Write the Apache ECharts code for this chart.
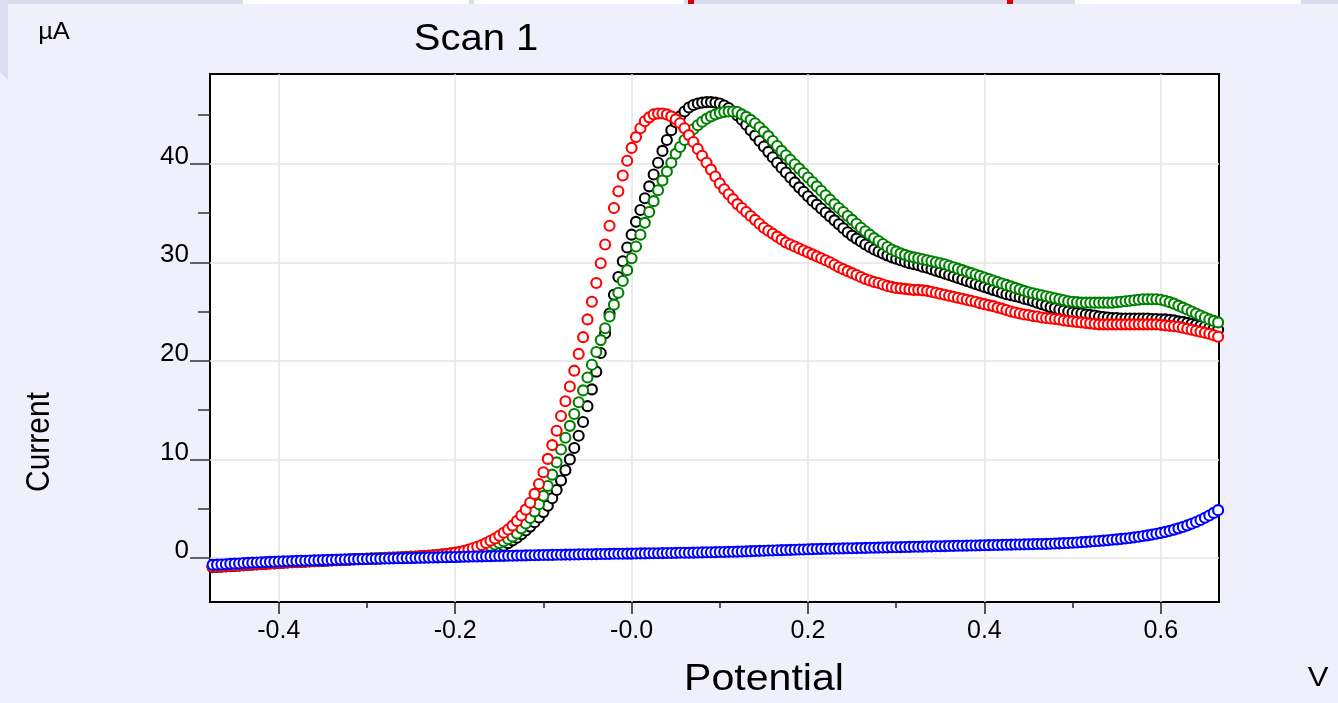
<!DOCTYPE html>
<html><head><meta charset="utf-8">
<script src="https://cdn.jsdelivr.net/npm/echarts@6/dist/echarts.min.js"></script>
<style>html,body{margin:0;padding:0;background:#f0f0fc;}#c{width:1338px;height:703px;}</style>
</head><body><div id="c"></div>
<script>
// Potential (V)
const potentials = [
-0.475,-0.470,-0.465,-0.460,-0.455,-0.450,-0.445,-0.440,-0.435,-0.430,
-0.425,-0.420,-0.415,-0.410,-0.405,-0.400,-0.395,-0.390,-0.385,-0.380,
-0.375,-0.370,-0.365,-0.360,-0.355,-0.350,-0.345,-0.340,-0.335,-0.330,
-0.325,-0.320,-0.315,-0.310,-0.305,-0.300,-0.295,-0.290,-0.285,-0.280,
-0.275,-0.270,-0.265,-0.260,-0.255,-0.250,-0.245,-0.240,-0.235,-0.230,
-0.225,-0.220,-0.215,-0.210,-0.205,-0.200,-0.195,-0.190,-0.185,-0.180,
-0.175,-0.170,-0.165,-0.160,-0.155,-0.150,-0.145,-0.140,-0.135,-0.130,
-0.125,-0.120,-0.115,-0.110,-0.105,-0.100,-0.095,-0.090,-0.085,-0.080,
-0.075,-0.070,-0.065,-0.060,-0.055,-0.050,-0.045,-0.040,-0.035,-0.030,
-0.025,-0.020,-0.015,-0.010,-0.005,0.000,0.005,0.010,0.015,0.020,
0.025,0.030,0.035,0.040,0.045,0.050,0.055,0.060,0.065,0.070,
0.075,0.080,0.085,0.090,0.095,0.100,0.105,0.110,0.115,0.120,
0.125,0.130,0.135,0.140,0.145,0.150,0.155,0.160,0.165,0.170,
0.175,0.180,0.185,0.190,0.195,0.200,0.205,0.210,0.215,0.220,
0.225,0.230,0.235,0.240,0.245,0.250,0.255,0.260,0.265,0.270,
0.275,0.280,0.285,0.290,0.295,0.300,0.305,0.310,0.315,0.320,
0.325,0.330,0.335,0.340,0.345,0.350,0.355,0.360,0.365,0.370,
0.375,0.380,0.385,0.390,0.395,0.400,0.405,0.410,0.415,0.420,
0.425,0.430,0.435,0.440,0.445,0.450,0.455,0.460,0.465,0.470,
0.475,0.480,0.485,0.490,0.495,0.500,0.505,0.510,0.515,0.520,
0.525,0.530,0.535,0.540,0.545,0.550,0.555,0.560,0.565,0.570,
0.575,0.580,0.585,0.590,0.595,0.600,0.605,0.610,0.615,0.620,
0.625,0.630,0.635,0.640,0.645,0.650,0.655,0.660,0.665];

// Current (µA)
const blackCurrent = [
-0.95,-0.92,-0.90,-0.87,-0.84,-0.81,-0.78,-0.75,-0.72,-0.69,
-0.66,-0.63,-0.60,-0.57,-0.55,-0.52,-0.49,-0.47,-0.44,-0.42,
-0.40,-0.38,-0.36,-0.34,-0.32,-0.30,-0.28,-0.26,-0.24,-0.22,
-0.20,-0.18,-0.16,-0.14,-0.12,-0.10,-0.08,-0.07,-0.05,-0.04,
-0.03,-0.02,-0.01,0.00,0.01,0.02,0.03,0.04,0.05,0.06,
0.07,0.08,0.09,0.10,0.11,0.13,0.15,0.17,0.20,0.24,
0.30,0.38,0.48,0.62,0.80,1.00,1.24,1.50,1.78,2.05,
2.40,2.78,3.18,3.62,4.10,4.65,5.30,6.05,6.90,7.85,
8.90,10.00,11.15,12.40,13.80,15.40,17.10,18.90,20.80,22.80,
24.80,26.70,28.50,30.10,31.50,32.80,34.10,35.30,36.50,37.70,
38.90,40.10,41.30,42.40,43.40,44.20,44.80,45.30,45.70,45.95,
46.10,46.20,46.25,46.25,46.20,46.10,45.90,45.65,45.30,44.90,
44.45,43.95,43.40,42.85,42.30,41.75,41.20,40.65,40.10,39.60,
39.10,38.60,38.10,37.60,37.15,36.70,36.25,35.85,35.45,35.05,
34.65,34.25,33.85,33.45,33.05,32.70,32.40,32.10,31.80,31.55,
31.30,31.10,30.90,30.70,30.50,30.35,30.20,30.05,29.90,29.80,
29.70,29.55,29.45,29.30,29.15,29.00,28.85,28.70,28.55,28.40,
28.25,28.10,27.95,27.80,27.65,27.50,27.35,27.20,27.05,26.90,
26.75,26.65,26.55,26.45,26.30,26.20,26.05,25.90,25.75,25.60,
25.45,25.35,25.20,25.10,25.00,24.90,24.85,24.80,24.70,24.65,
24.60,24.50,24.45,24.40,24.35,24.35,24.30,24.30,24.30,24.30,
24.30,24.30,24.30,24.25,24.25,24.20,24.20,24.15,24.10,24.00,
23.95,23.85,23.75,23.65,23.55,23.45,23.35,23.25,23.15];

const greenCurrent = [
-0.88,-0.86,-0.84,-0.81,-0.78,-0.76,-0.73,-0.70,-0.68,-0.65,
-0.62,-0.60,-0.57,-0.54,-0.52,-0.49,-0.46,-0.44,-0.41,-0.38,
-0.36,-0.34,-0.32,-0.30,-0.28,-0.26,-0.24,-0.22,-0.20,-0.18,
-0.16,-0.14,-0.12,-0.10,-0.08,-0.06,-0.04,-0.03,-0.01,0.01,
0.03,0.05,0.07,0.09,0.11,0.13,0.15,0.18,0.21,0.24,
0.28,0.32,0.36,0.41,0.46,0.52,0.58,0.65,0.72,0.80,
0.89,0.99,1.10,1.22,1.36,1.52,1.70,1.92,2.18,2.48,
3.00,3.50,4.05,4.70,5.45,6.30,7.30,8.45,9.70,11.00,
12.20,13.40,14.60,15.80,17.00,18.30,19.60,20.90,22.10,23.30,
24.50,25.70,26.90,28.10,29.20,30.40,31.60,32.80,34.00,35.10,
36.20,37.30,38.30,39.20,40.10,41.00,41.70,42.40,43.00,43.50,
43.90,44.25,44.55,44.80,45.00,45.15,45.25,45.30,45.30,45.25,
45.00,44.75,44.45,44.10,43.70,43.25,42.80,42.30,41.80,41.30,
40.85,40.40,39.95,39.50,39.05,38.60,38.15,37.70,37.25,36.80,
36.35,35.90,35.50,35.10,34.70,34.30,33.90,33.50,33.15,32.80,
32.45,32.15,31.85,31.55,31.30,31.10,30.90,30.75,30.60,30.50,
30.40,30.30,30.20,30.10,30.00,29.90,29.80,29.65,29.50,29.35,
29.20,29.05,28.90,28.75,28.60,28.45,28.30,28.15,28.00,27.85,
27.70,27.55,27.40,27.25,27.10,26.95,26.85,26.75,26.65,26.55,
26.45,26.35,26.25,26.15,26.05,26.00,25.95,25.90,25.90,25.90,
25.90,25.90,25.90,25.90,25.90,25.95,26.00,26.05,26.10,26.15,
26.20,26.25,26.25,26.25,26.25,26.20,26.10,25.95,25.80,25.60,
25.40,25.20,25.00,24.80,24.60,24.40,24.20,24.05,23.90];

const redCurrent = [
-0.90,-0.88,-0.86,-0.83,-0.80,-0.78,-0.75,-0.72,-0.70,-0.67,
-0.64,-0.62,-0.59,-0.56,-0.54,-0.51,-0.48,-0.46,-0.43,-0.40,
-0.38,-0.36,-0.34,-0.32,-0.30,-0.28,-0.26,-0.24,-0.22,-0.20,
-0.18,-0.16,-0.14,-0.12,-0.10,-0.08,-0.06,-0.05,-0.03,-0.01,
0.01,0.03,0.05,0.07,0.09,0.11,0.13,0.16,0.19,0.22,
0.26,0.30,0.34,0.39,0.46,0.54,0.62,0.72,0.84,0.98,
1.14,1.32,1.52,1.74,1.98,2.25,2.55,2.88,3.28,3.75,
4.30,4.90,5.60,6.50,7.50,8.70,10.05,11.45,12.90,14.40,
15.90,17.40,19.00,20.70,22.40,24.20,26.00,27.90,29.90,31.80,
33.70,35.50,37.20,38.80,40.30,41.60,42.70,43.60,44.30,44.70,
45.00,45.10,45.10,45.00,44.80,44.50,44.10,43.60,42.90,42.20,
41.50,40.80,40.10,39.40,38.70,38.00,37.40,36.90,36.40,35.90,
35.50,35.10,34.70,34.30,33.90,33.50,33.20,32.90,32.60,32.30,
32.00,31.80,31.60,31.40,31.20,31.00,30.80,30.60,30.40,30.20,
30.00,29.75,29.50,29.30,29.10,28.90,28.70,28.50,28.30,28.15,
28.00,27.90,27.75,27.60,27.50,27.40,27.35,27.30,27.25,27.20,
27.20,27.15,27.10,27.00,26.90,26.80,26.70,26.60,26.50,26.40,
26.30,26.20,26.10,26.00,25.85,25.75,25.65,25.55,25.40,25.30,
25.15,25.00,24.90,24.80,24.70,24.65,24.55,24.50,24.40,24.35,
24.30,24.25,24.20,24.10,24.05,24.00,23.95,23.90,23.85,23.80,
23.75,23.70,23.70,23.70,23.70,23.70,23.70,23.70,23.70,23.70,
23.70,23.70,23.70,23.70,23.70,23.65,23.60,23.55,23.50,23.45,
23.35,23.25,23.15,23.05,22.95,22.85,22.75,22.60,22.45];

const blueCurrent = [
-0.70,-0.68,-0.66,-0.64,-0.60,-0.58,-0.56,-0.52,-0.50,-0.48,
-0.46,-0.44,-0.42,-0.40,-0.38,-0.36,-0.35,-0.34,-0.32,-0.30,
-0.29,-0.28,-0.26,-0.25,-0.24,-0.22,-0.21,-0.20,-0.18,-0.17,
-0.16,-0.15,-0.14,-0.12,-0.11,-0.10,-0.09,-0.08,-0.07,-0.06,
-0.05,-0.04,-0.03,-0.02,-0.01,0.00,0.01,0.02,0.03,0.04,
0.05,0.06,0.07,0.08,0.09,0.10,0.11,0.12,0.13,0.14,
0.15,0.16,0.17,0.18,0.19,0.20,0.21,0.22,0.23,0.24,
0.25,0.26,0.27,0.28,0.29,0.30,0.30,0.31,0.32,0.33,
0.34,0.34,0.35,0.36,0.37,0.37,0.38,0.39,0.40,0.40,
0.41,0.42,0.42,0.43,0.44,0.44,0.45,0.46,0.46,0.47,
0.48,0.48,0.49,0.50,0.50,0.51,0.52,0.52,0.53,0.54,
0.55,0.56,0.57,0.58,0.59,0.60,0.61,0.62,0.63,0.64,
0.66,0.67,0.69,0.70,0.72,0.73,0.75,0.76,0.78,0.79,
0.80,0.82,0.83,0.85,0.86,0.88,0.89,0.90,0.92,0.93,
0.94,0.95,0.96,0.97,0.98,0.99,1.00,1.01,1.02,1.03,
1.04,1.05,1.06,1.07,1.08,1.09,1.10,1.11,1.12,1.13,
1.14,1.15,1.16,1.17,1.18,1.19,1.20,1.21,1.22,1.23,
1.24,1.25,1.26,1.27,1.28,1.29,1.30,1.31,1.32,1.33,
1.34,1.35,1.36,1.37,1.38,1.39,1.40,1.41,1.42,1.43,
1.44,1.46,1.48,1.50,1.52,1.54,1.57,1.60,1.63,1.66,
1.69,1.72,1.76,1.80,1.84,1.88,1.93,1.98,2.03,2.09,
2.15,2.22,2.29,2.37,2.45,2.54,2.64,2.75,2.87,3.00,
3.14,3.30,3.47,3.65,3.85,4.07,4.31,4.57,4.85];

const xTickValues = [-0.4, -0.2, 0, 0.2, 0.4, 0.6];
const xTickLabels = ['-0.4', '-0.2', '-0.0', '0.2', '0.4', '0.6'];
const xMinorTicks = [-0.3, -0.1, 0.1, 0.3, 0.5];
const yTickValues = [0, 10, 20, 30, 40];
const yTickLabels = ['0', '10', '20', '30', '40'];
const yMinorTicks = [5, 15, 25, 35, 45];

const FONT = 'Liberation Sans, Arial, Helvetica, sans-serif';
const X_MIN = -0.478, X_MAX = 0.666, Y_MIN = -4.47, Y_MAX = 49.1;

function pairs(arr) { return potentials.map((x, i) => [x, arr[i]]); }
function labelFor(values, labels, v) {
  for (let i = 0; i < values.length; i++) if (Math.abs(values[i] - v) < 1e-9) return labels[i];
  return '';
}
function scatter(name, color, arr, extra) {
  return Object.assign({
    name: name, type: 'scatter', data: pairs(arr),
    symbol: 'circle', symbolSize: 10,
    itemStyle: { color: '#ffffff', borderColor: color, borderWidth: 2.1, opacity: 1 },
    emphasis: { disabled: true }, silent: true, z: 2, clip: true
  }, extra || {});
}

const chart = echarts.init(document.getElementById('c'), null, { renderer: 'canvas' });
chart.setOption({
  animation: false,
  backgroundColor: '#f0f0fc',
  grid: { left: 210, top: 74, width: 1009, height: 528, show: true, backgroundColor: '#ffffff', borderColor: '#000000', borderWidth: 2, containLabel: false },
  xAxis: [
    { type: 'value', min: X_MIN, max: X_MAX, position: 'bottom',
      axisLine: { show: true, onZero: false, lineStyle: { color: '#000', width: 2 } },
      axisTick: { show: true, inside: false, length: 12, customValues: xTickValues, lineStyle: { color: '#222', width: 1.5 } },
      axisLabel: { show: true, customValues: xTickValues, margin: 17, color: '#000', fontFamily: FONT, fontSize: 25,
        formatter: v => labelFor(xTickValues, xTickLabels, v) },
      splitLine: { show: false } },
    { type: 'value', min: X_MIN, max: X_MAX, position: 'bottom',
      axisLine: { show: false, onZero: false },
      axisTick: { show: true, inside: false, length: 6, customValues: xMinorTicks, lineStyle: { color: '#222', width: 1.5 } },
      axisLabel: { show: false }, splitLine: { show: false } }
  ],
  yAxis: [
    { type: 'value', min: Y_MIN, max: Y_MAX, position: 'left',
      axisLine: { show: true, onZero: false, lineStyle: { color: '#000', width: 2 } },
      axisTick: { show: true, inside: false, length: 20, customValues: yTickValues, lineStyle: { color: '#333', width: 1.5 } },
      axisLabel: { show: true, customValues: yTickValues, margin: 21, color: '#000', fontFamily: FONT, fontSize: 26,
        verticalAlign: 'bottom', lineHeight: 14, formatter: v => labelFor(yTickValues, yTickLabels, v) },
      splitLine: { show: false } },
    { type: 'value', min: Y_MIN, max: Y_MAX, position: 'left',
      axisLine: { show: false, onZero: false },
      axisTick: { show: true, inside: false, length: 12, customValues: yMinorTicks, lineStyle: { color: '#333', width: 1.5 } },
      axisLabel: { show: false }, splitLine: { show: false } }
  ],
  series: [
    scatter('black', '#000000', blackCurrent, {
      markLine: {
        silent: true, z: 1, symbol: ['none', 'none'], label: { show: false }, animation: false,
        lineStyle: { color: '#e4e4e4', width: 1.5, type: 'solid' },
        emphasis: { disabled: true },
        data: xTickValues.map(v => ({ xAxis: v })).concat(yTickValues.map(v => ({ yAxis: v })))
      }
    }),
    scatter('green', '#008000', greenCurrent),
    scatter('red', '#ff0000', redCurrent),
    scatter('blue', '#0000ff', blueCurrent)
  ],
  graphic: [
    { type: 'rect', shape: { x: 0, y: 0, width: 1338, height: 4 }, style: { fill: '#dcdcf0' }, silent: true },
    { type: 'rect', shape: { x: 243, y: 0, width: 226, height: 4 }, style: { fill: '#ffffff' }, silent: true },
    { type: 'rect', shape: { x: 474, y: 0, width: 210, height: 4 }, style: { fill: '#ffffff' }, silent: true },
    { type: 'rect', shape: { x: 1075, y: 0, width: 226, height: 4 }, style: { fill: '#ffffff' }, silent: true },
    { type: 'rect', shape: { x: 688, y: 0, width: 6, height: 4 }, style: { fill: '#dd0000' }, silent: true },
    { type: 'rect', shape: { x: 1007, y: 0, width: 6, height: 4 }, style: { fill: '#dd0000' }, silent: true },
    { type: 'polygon', shape: { points: [[0, 0], [8, 0], [8, 80], [0, 72]] }, style: { fill: '#dcdcf0' }, silent: true },
    { type: 'text', x: 476, y: 40, scaleX: 1.11, style: { text: 'Scan 1', fill: '#000', font: '36px ' + FONT, textAlign: 'center', textVerticalAlign: 'middle' }, silent: true },
    { type: 'text', x: 764, y: 680, scaleX: 1.11, style: { text: 'Potential', fill: '#000', font: '37px ' + FONT, textAlign: 'center', textVerticalAlign: 'middle' }, silent: true },
    { type: 'text', x: 40, y: 442, rotation: Math.PI / 2, scaleY: 1.11, style: { text: 'Current', fill: '#000', font: '30px ' + FONT, textAlign: 'center', textVerticalAlign: 'middle' }, silent: true },
    { type: 'text', x: 54, y: 33, scaleX: 1.11, style: { text: 'µA', fill: '#000', font: '23px ' + FONT, textAlign: 'center', textVerticalAlign: 'middle' }, silent: true },
    { type: 'text', x: 1318, y: 678, scaleX: 1.11, style: { text: 'V', fill: '#000', font: '28px ' + FONT, textAlign: 'center', textVerticalAlign: 'middle' }, silent: true }
  ]
});
</script>
</body></html>
